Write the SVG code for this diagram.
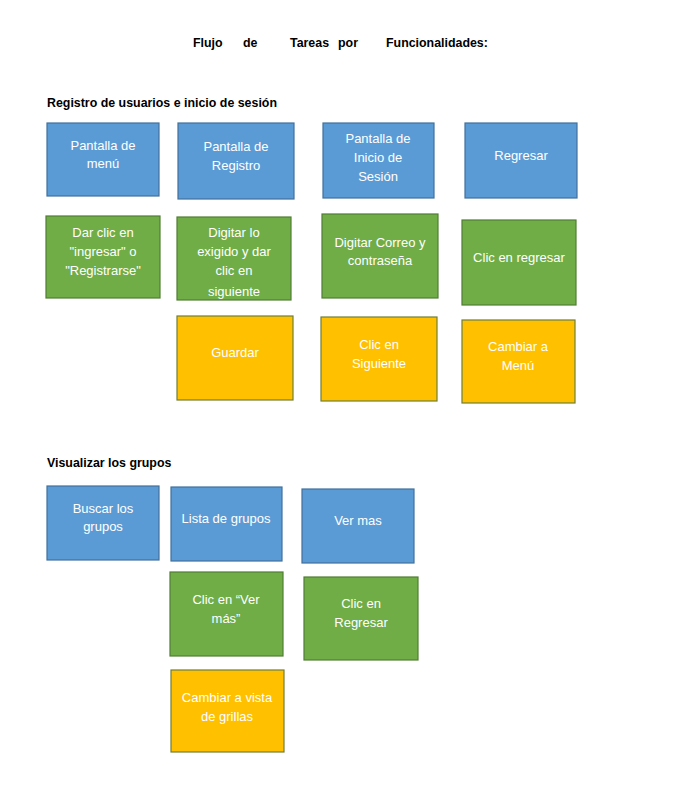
<svg xmlns="http://www.w3.org/2000/svg" width="678" height="804" viewBox="0 0 678 804">
<style>
.h{font-family:"Liberation Sans",Arial,sans-serif;font-weight:bold;font-size:12.4px;fill:#000}
.t{font-family:"Liberation Sans",Arial,sans-serif;font-size:13px;fill:#fff;text-anchor:middle}
.b{fill:#5B9BD5;stroke:#41719C;stroke-width:1.2}
.g{fill:#70AD47;stroke:#507E32;stroke-width:1.2}
.o{fill:#FFC000;stroke:#6E7F35;stroke-width:1.2}
</style>
<defs>
<clipPath id="cG2"><rect x="177" y="217" width="114" height="82"/></clipPath>
</defs>
<rect width="678" height="804" fill="#fff"/>
<g id="title">
<text class="h" x="193" y="47">Flujo</text>
<text class="h" x="243" y="47">de</text>
<text class="h" x="290" y="47">Tareas</text>
<text class="h" x="338" y="47">por</text>
<text class="h" x="386" y="47">Funcionalidades:</text>
</g>
<text class="h" x="47" y="107">Registro de usuarios e inicio de sesión</text>
<text class="h" x="47" y="467">Visualizar los grupos</text>
<g id="connectors"></g>
<g id="b1"><rect class="b" x="47" y="123" width="112" height="73"/><text class="t" x="103" y="150">Pantalla de</text><text class="t" x="103" y="168">menú</text></g>
<g id="b2"><rect class="b" x="178" y="123" width="116" height="76"/><text class="t" x="236" y="151">Pantalla de</text><text class="t" x="236" y="170">Registro</text></g>
<g id="b3"><rect class="b" x="323" y="123" width="111" height="75"/><text class="t" x="378" y="143">Pantalla de</text><text class="t" x="378" y="162">Inicio de</text><text class="t" x="378" y="181">Sesión</text></g>
<g id="b4"><rect class="b" x="465" y="123" width="112" height="75"/><text class="t" x="521" y="160">Regresar</text></g>
<g id="g1"><rect class="g" x="46" y="216" width="114" height="82"/><text class="t" x="103" y="237">Dar clic en</text><text class="t" x="103" y="256">"ingresar" o</text><text class="t" x="103" y="275">"Registrarse"</text></g>
<g id="g2"><rect class="g" x="177" y="217" width="114" height="83"/><g clip-path="url(#cG2)"><text class="t" x="234" y="237">Digitar lo</text><text class="t" x="234" y="256">exigido y dar</text><text class="t" x="234" y="275">clic en</text><text class="t" x="234" y="296">siguiente</text></g></g>
<g id="g3"><rect class="g" x="322" y="214" width="116" height="84"/><text class="t" x="380" y="247">Digitar Correo y</text><text class="t" x="380" y="265">contraseña</text></g>
<g id="g4"><rect class="g" x="462" y="220" width="114" height="85"/><text class="t" x="519" y="262">Clic en regresar</text></g>
<g id="o1"><rect class="o" x="177" y="316" width="116" height="84"/><text class="t" x="235" y="357">Guardar</text></g>
<g id="o2"><rect class="o" x="321" y="317" width="116" height="84"/><text class="t" x="379" y="349">Clic en</text><text class="t" x="379" y="368">Siguiente</text></g>
<g id="o3"><rect class="o" x="462" y="320" width="113" height="83"/><text class="t" x="518" y="351">Cambiar a</text><text class="t" x="518" y="370">Menú</text></g>
<g id="b5"><rect class="b" x="47" y="486" width="112" height="74"/><text class="t" x="103" y="513">Buscar los</text><text class="t" x="103" y="531">grupos</text></g>
<g id="b6"><rect class="b" x="171" y="487" width="111" height="74"/><text class="t" x="226" y="523">Lista de grupos</text></g>
<g id="b7"><rect class="b" x="302" y="489" width="112" height="74"/><text class="t" x="358" y="525">Ver mas</text></g>
<g id="g5"><rect class="g" x="170" y="572" width="113" height="84"/><text class="t" x="226" y="604">Clic en “Ver</text><text class="t" x="226" y="623">más”</text></g>
<g id="g6"><rect class="g" x="304" y="577" width="114" height="83"/><text class="t" x="361" y="608">Clic en</text><text class="t" x="361" y="627">Regresar</text></g>
<g id="o4"><rect class="o" x="171" y="670" width="113" height="82"/><text class="t" x="227" y="702">Cambiar a vista</text><text class="t" x="227" y="721">de grillas</text></g>
</svg>
